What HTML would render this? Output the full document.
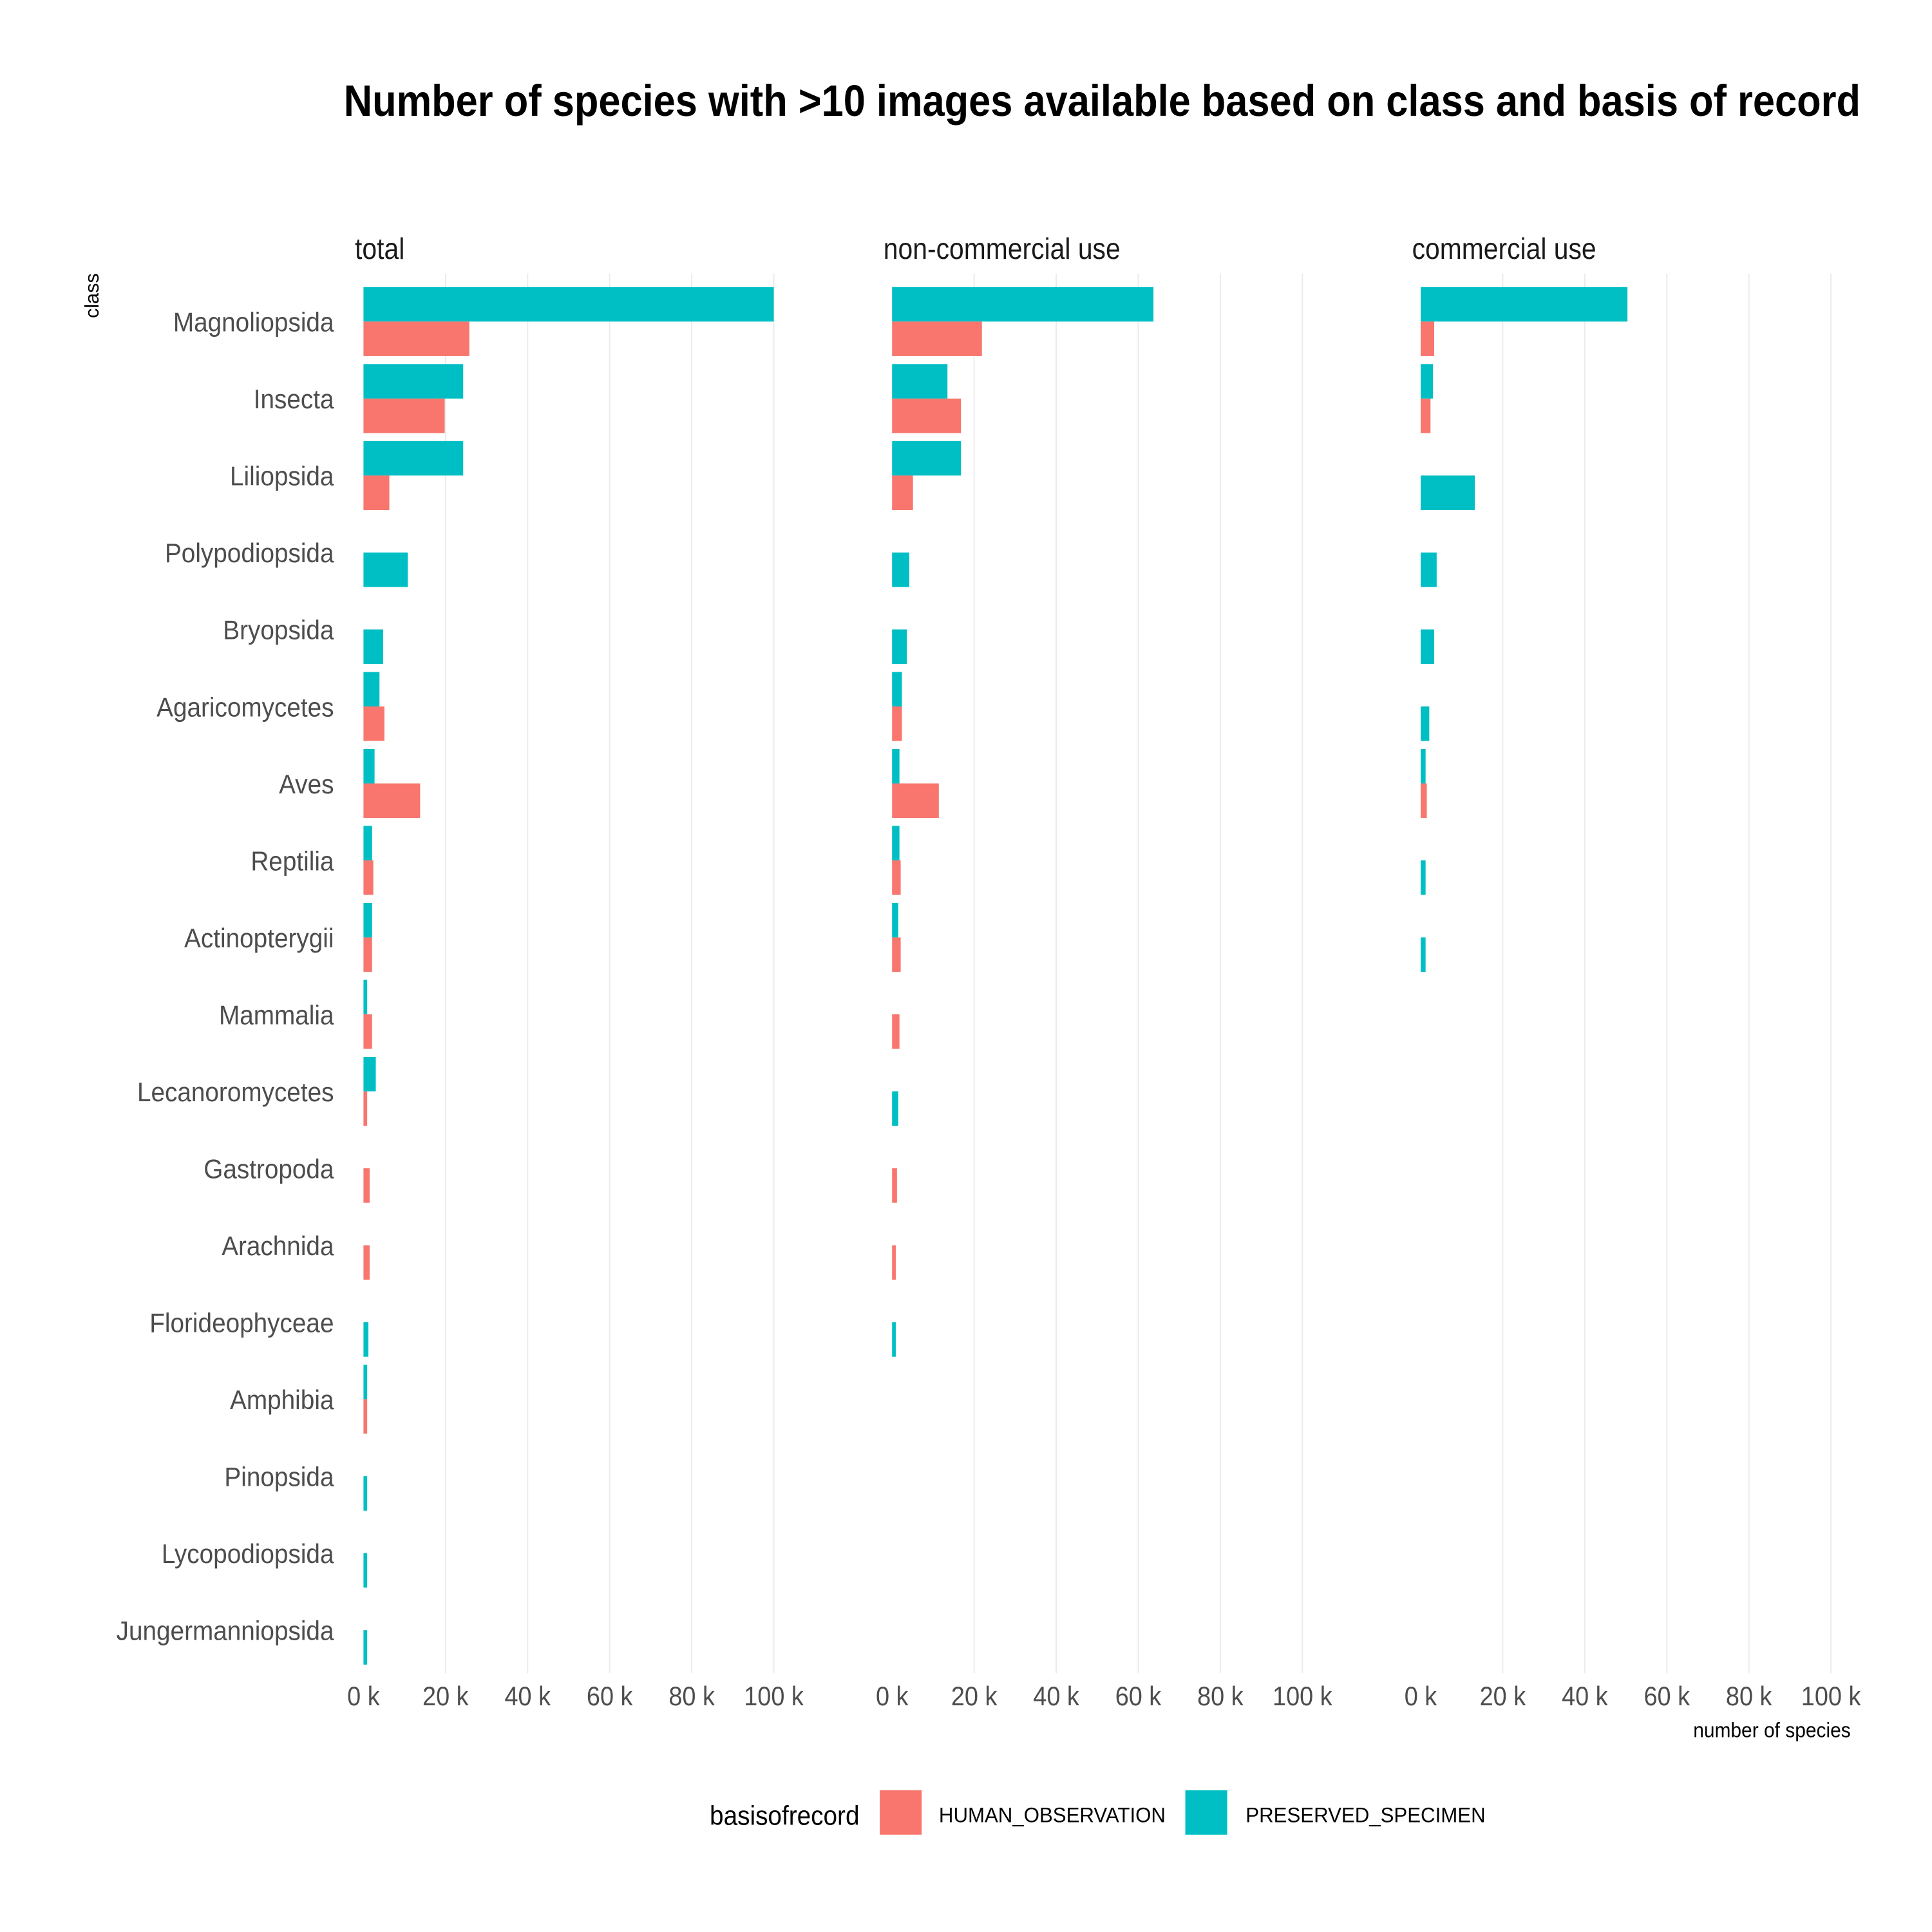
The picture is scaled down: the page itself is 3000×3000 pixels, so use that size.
<!DOCTYPE html>
<html><head><meta charset="utf-8"><style>
html,body{margin:0;padding:0;background:#fff;}
svg{display:block;}
text{font-family:"Liberation Sans Narrow","Liberation Sans",sans-serif;}
</style></head><body>
<svg id="chart" width="3000" height="3000" viewBox="0 0 1568 1568" xmlns="http://www.w3.org/2000/svg">
<text x="279" y="94" font-size="36" font-weight="bold" fill="#000" textLength="1231" lengthAdjust="spacingAndGlyphs">Number of species with &gt;10 images available based on class and basis of record</text>
<text transform="translate(80,240) rotate(-90)" font-size="16" text-anchor="middle" fill="#000">class</text>
<text class="sq" data-k="0.92" x="1502" y="1410" font-size="17" text-anchor="end" fill="#000">number of species</text>
<g id="panels"></g>
<g id="legend">
<text class="sq" data-k="0.92" x="576" y="1481" font-size="22" fill="#000">basisofrecord</text>
<rect x="714" y="1453" width="34" height="36" fill="#F8766D"/>
<text class="sq" data-k="0.96" x="762" y="1479" font-size="17" fill="#000">HUMAN_OBSERVATION</text>
<rect x="962" y="1453" width="34" height="36" fill="#00BFC4"/>
<text class="sq" data-k="0.96" x="1011" y="1479" font-size="17" fill="#000">PRESERVED_SPECIMEN</text>
</g>
</svg>
<script>
const categories = ["Magnoliopsida","Insecta","Liliopsida","Polypodiopsida","Bryopsida","Agaricomycetes","Aves","Reptilia","Actinopterygii","Mammalia","Lecanoromycetes","Gastropoda","Arachnida","Florideophyceae","Amphibia","Pinopsida","Lycopodiopsida","Jungermanniopsida"];
const panelNames = ["total","non-commercial use","commercial use"];
const tickValues = [0,20,40,60,80,100];
const tickLabels = ["0 k","20 k","40 k","60 k","80 k","100 k"];
// values in thousands; null = no bar
const totalHuman = [25.8,19.8,6.3,null,null,5.1,13.8,2.4,2.1,2.1,0.9,1.5,1.5,null,0.9,null,null,null];
const totalPreserved = [100,24.3,24.3,10.8,4.8,3.9,2.7,2.1,2.1,0.9,3.0,null,null,1.2,0.9,0.9,0.9,0.9];
const nonCommHuman = [21.9,16.8,5.1,null,null,2.4,11.4,2.1,2.1,1.8,null,1.2,0.9,null,null,null,null,null];
const nonCommPreserved = [63.7,13.5,16.8,4.2,3.6,2.4,1.8,1.8,1.5,null,1.5,null,null,0.9,null,null,null,null];
const commHuman = [3.3,2.4,null,null,null,null,1.5,null,null,null,null,null,null,null,null,null,null,null];
const commPreserved = [50.4,3.0,13.2,3.9,3.3,2.1,1.2,1.2,1.2,null,null,null,null,null,null,null,null,null];

const humanSeries = [totalHuman, nonCommHuman, commHuman];
const preservedSeries = [totalPreserved, nonCommPreserved, commPreserved];
const NS = "http://www.w3.org/2000/svg";
const g = document.getElementById("panels");
const panelX0 = [295,724,1153];
const pxPerK = 3.33;
const rowY0 = 261, rowStep = 62.47, half = 28;
function xScale(p, v){ return panelX0[p] + v*pxPerK; }
function yScale(i){ return rowY0 + i*rowStep; }
function mk(tag, attrs){ const e=document.createElementNS(NS,tag); for(const k in attrs) e.setAttribute(k,attrs[k]); return e; }

categories.forEach((c,i)=>{
  const t = mk("text",{x:271,y:yScale(i)+8,"font-size":22,"text-anchor":"end",fill:"#4d4d4d",class:"sq","data-k":"0.92"});
  
  
  t.textContent = c; g.appendChild(t);
});

panelNames.forEach((name,p)=>{
  const pg = mk("g",{});
  
  
  g.appendChild(pg);
  tickValues.forEach((v,k)=>{
    if(v>0){
      const ln = mk("line",{x1:xScale(p,v),x2:xScale(p,v),y1:222,y2:1358,stroke:"#ebebeb","stroke-width":1});
      
      
      pg.appendChild(ln);
    }
    const tl = mk("text",{x:xScale(p,v),y:1384,"font-size":22,"text-anchor":"middle",fill:"#4d4d4d",class:"sq","data-k":"0.9"});
    
    
    tl.textContent = tickLabels[k]; pg.appendChild(tl);
  });
  const strip = mk("text",{x:panelX0[p]-7,y:210,"font-size":24,fill:"#1a1a1a",class:"sq","data-k":"0.89"});
  
  
  strip.textContent = name; pg.appendChild(strip);
  categories.forEach((c,i)=>{
    const h = humanSeries[p][i], s = preservedSeries[p][i];
    const yc = yScale(i);
    const both = h!=null && s!=null;
    if(s!=null){
      const y = both ? yc-half : yc;
      const r = mk("rect",{x:xScale(p,0),y:y,width:xScale(p,s)-xScale(p,0),height:half,fill:"#00BFC4"});
      
      
      pg.appendChild(r);
    }
    if(h!=null){
      const r = mk("rect",{x:xScale(p,0),y:yc,width:xScale(p,h)-xScale(p,0),height:half,fill:"#F8766D"});
      
      
      pg.appendChild(r);
    }
  });
});
document.querySelectorAll("text.sq").forEach(t=>{
  const k = parseFloat(t.getAttribute("data-k"));
  const len = t.getComputedTextLength();
  if(len>0){ t.setAttribute("textLength", (len*k).toFixed(1)); t.setAttribute("lengthAdjust","spacingAndGlyphs"); }
});
</script>
</body></html>
